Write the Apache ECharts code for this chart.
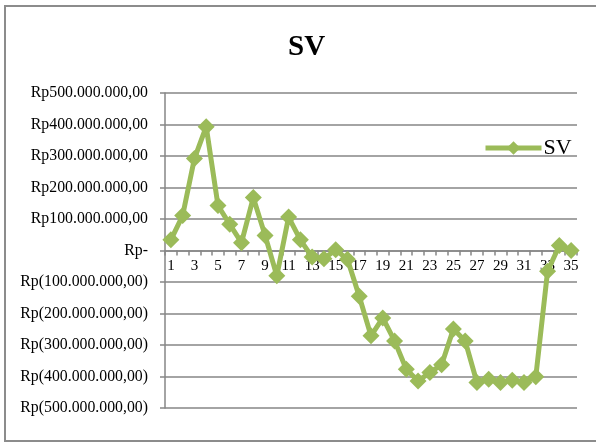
<!DOCTYPE html>
<html>
<head>
<meta charset="utf-8">
<script src="https://cdn.jsdelivr.net/npm/echarts@6/dist/echarts.min.js"></script>
<style>
  html, body { margin: 0; padding: 0; background: #fff; }
  #chart { width: 596px; height: 442px; }
</style>
</head>
<body>
<div id="chart"></div>
<script>
var chart = echarts.init(document.getElementById("chart"));

// data (in Rupiah)
var periods = [];
for (var i = 1; i <= 35; i++) periods.push(String(i));
var sv = [
  34e6, 111e6, 292e6, 393e6, 143e6, 83e6, 25e6, 168e6, 48e6, -80e6,
  106e6, 34e6, -21e6, -26e6, 2e6, -28e6, -145e6, -271e6, -214e6, -287e6,
  -377e6, -414e6, -387e6, -363e6, -249e6, -287e6, -419e6, -409e6, -419e6, -412e6,
  -419e6, -401e6, -66e6, 16e6, 0
];

// format like Excel accounting "Rp" style
function rupiah(v) {
  if (v === 0) return "Rp-";
  var n = Math.abs(v).toFixed(0).replace(/\B(?=(\d{3})+(?!\d))/g, ".") + ",00";
  return v < 0 ? "Rp(" + n + ")" : "Rp" + n;
}

var serif = "'Liberation Serif', 'DejaVu Serif', serif";

var option = {
  animation: false,
  textStyle: { fontFamily: serif },
  title: {
    text: "SV",
    left: 283,
    top: 28,
    textStyle: { fontFamily: serif, fontSize: 29, fontWeight: "bold", color: "#000" }
  },
  legend: {
    data: ["SV"],
    left: 478,
    top: 132,
    itemWidth: 56,
    itemHeight: 17,
    itemGap: 0,
    lineStyle: { width: 5 },
    textStyle: { fontFamily: serif, fontSize: 22, color: "#000", padding: [0, 0, 0, -3] }
  },
  grid: {
    left: 165,
    right: 19,
    top: 93,
    bottom: 34
  },
  xAxis: {
    type: "category",
    data: periods,
    boundaryGap: true,
    offset: -157.5,
    z: 0,
    axisLine: { onZero: false, lineStyle: { color: "#868686", width: 1.5 } },
    axisTick: { show: true, length: 5, interval: 0, lineStyle: { color: "#868686", width: 1.5 } },
    axisLabel: { interval: 1, color: "#000", fontSize: 15, fontFamily: serif, margin: 8 },
    splitLine: { show: false }
  },
  yAxis: {
    type: "value",
    min: -500e6,
    max: 500e6,
    interval: 100e6,
    axisLine: { show: true, lineStyle: { color: "#868686", width: 1.5 } },
    axisTick: { show: true, length: 5, lineStyle: { color: "#868686", width: 1.5 } },
    axisLabel: { color: "#000", fontSize: 15.8, fontFamily: serif, margin: 17, formatter: rupiah },
    splitLine: { lineStyle: { color: "#868686", width: 1.5 } }
  },
  graphic: [{
    type: "rect",
    shape: { x: 5, y: 6, width: 620, height: 435 },
    style: { fill: "none", stroke: "#8c8c8c", lineWidth: 2 },
    silent: true
  }],
  series: [{
    name: "SV",
    type: "line",
    z: 10,
    data: sv,
    symbol: "diamond",
    symbolSize: 17,
    showAllSymbol: true,
    lineStyle: { color: "#9BBB59", width: 5 },
    itemStyle: { color: "#9BBB59" }
  }]
};

chart.setOption(option);
</script>
</body>
</html>
